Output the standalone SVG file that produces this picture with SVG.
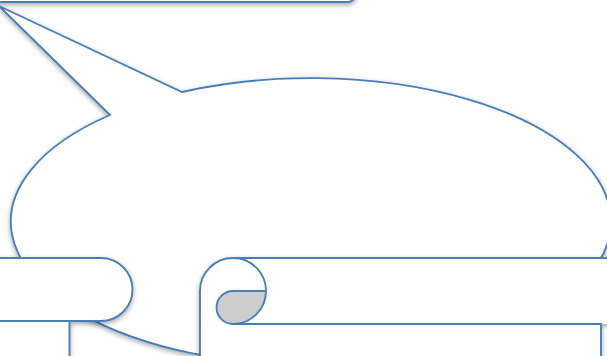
<svg xmlns="http://www.w3.org/2000/svg" width="607" height="356" viewBox="0 0 607 356">
  <defs>
    <filter id="sh" x="-10%" y="-10%" width="120%" height="130%">
      <feDropShadow dx="0" dy="2" stdDeviation="2.5" flood-color="#000" flood-opacity="0.35"/>
    </filter>
    <style>
      .ln { fill: none; stroke: #4a7ebb; stroke-width: 1.9; stroke-linejoin: round; }
      .bg { fill: #ffffff; stroke: none; }
      .curl { fill: #cdcdcd; stroke: none; }
    </style>
  </defs>
  <rect width="607" height="356" fill="#ffffff"/>

  <g id="top-rect">
    <rect x="-20" y="-60" width="377" height="62" rx="10" ry="10" fill="#ffffff" stroke="#4a7ebb" stroke-width="1.9" filter="url(#sh)"/>
  </g>

  <g id="callout">
    <path d="M 182,92 A 300,143.5 0 1 1 110,115 L -1,6 Z" fill="#ffffff" stroke="#4a7ebb" stroke-width="1.9" stroke-linejoin="miter" filter="url(#sh)"/>
  </g>

  <g id="scroll-left">
    <g filter="url(#sh)">
      <path class="bg" d="M -10,258 H 101 A 31.5,31.5 0 0 1 101,321 H 69.5 V 370 H -10 Z"/>
      <path class="ln" d="M -10,258 H 101 A 31.5,31.5 0 0 1 101,321 H -10"/>
      <path class="ln" d="M 69.5,321 V 370"/>
    </g>
  </g>

  <g id="scroll-right">
    <g filter="url(#sh)">
      <path class="bg" d="M 200,370 V 291 A 33,33 0 0 1 233,258 H 680 V 324 H 601 V 370 Z"/>
      <path class="curl" d="M 266,291 A 33,33 0 0 1 233,324 A 16.5,16.5 0 0 1 233,291 Z"/>
      <path class="ln" d="M 200,370 V 291 A 33,33 0 0 1 233,258 H 680"/>
      <path class="ln" d="M 233,258 A 33,33 0 0 1 233,324 A 16.5,16.5 0 0 1 233,291 L 266,291"/>
      <path class="ln" d="M 601,370 V 324 H 233"/>
    </g>
  </g>
</svg>
